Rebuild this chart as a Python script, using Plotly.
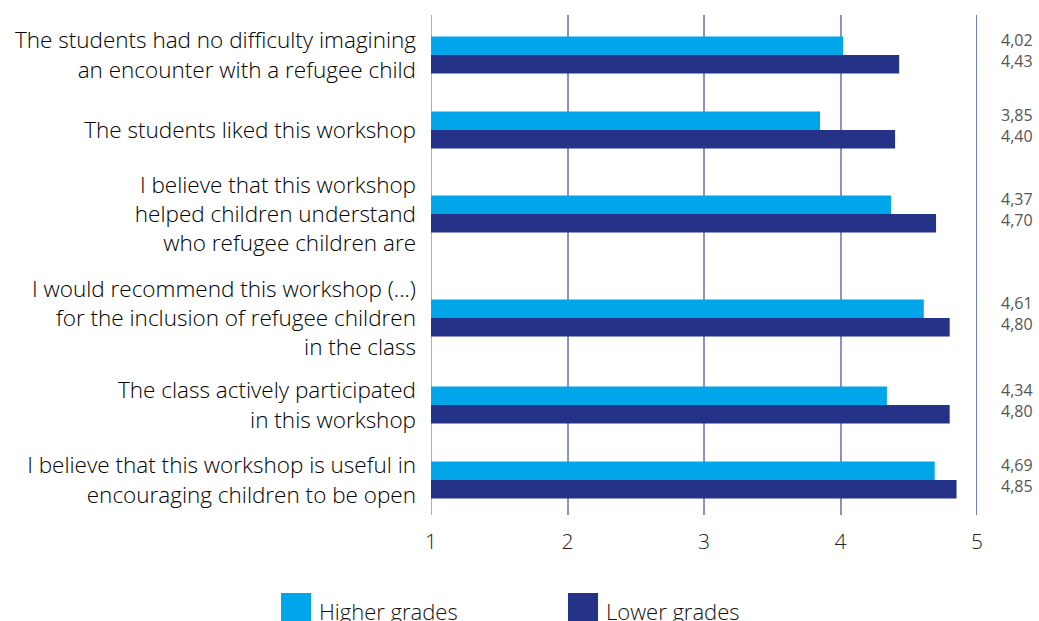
import plotly.graph_objects as go

# Survey statements (y categories), top to bottom
statements = [
    "The students had no difficulty imagining<br>an encounter with a refugee child",
    "The students liked this workshop",
    "I believe that this workshop<br>helped children understand<br>who refugee children are",
    "I would recommend this workshop (...)<br>for the inclusion of refugee children<br>in the class",
    "The class actively participated<br>in this workshop",
    "I believe that this workshop is useful in<br>encouraging children to be open",
]

# Mean scores on a 1-5 scale
higher_grades = [4.02, 3.85, 4.37, 4.61, 4.34, 4.69]
lower_grades = [4.43, 4.40, 4.70, 4.80, 4.80, 4.85]

x_ticks = [1, 2, 3, 4, 5]

# Vertical layout of the rows (rows are taller where labels wrap)
row_centers = [40, 115, 199, 303, 390, 465]
bar_thickness = 18.5

LIGHT = "#00a6e9"
DARK = "#243387"
GRID = "#8a93c4"
EDGE = "#7480bb"
FONT = "Open Sans"


def fmt(v):
    return f"{v:.2f}".replace(".", ",")


fig = go.Figure()
fig.add_trace(go.Bar(
    y=row_centers, x=higher_grades, orientation="h", name="Higher grades",
    marker=dict(color=LIGHT, line=dict(width=0)),
    width=bar_thickness, offset=-bar_thickness, showlegend=False,
))
fig.add_trace(go.Bar(
    y=row_centers, x=lower_grades, orientation="h", name="Lower grades",
    marker=dict(color=DARK, line=dict(width=0)),
    width=bar_thickness, offset=0, showlegend=False,
))

# Grid lines at the two ends of the scale
fig.add_shape(type="line", xref="x", yref="paper", x0=x_ticks[0], x1=x_ticks[0],
              y0=0, y1=1, line=dict(color=GRID, width=1.5), layer="below")
fig.add_shape(type="line", xref="x", yref="paper", x0=x_ticks[-1], x1=x_ticks[-1],
              y0=0, y1=1, line=dict(color=EDGE, width=2), layer="below")

# Value labels (higher / lower) stacked to the right of the plot
for yc, hv, lv in zip(row_centers, higher_grades, lower_grades):
    fig.add_annotation(
        x=1.04, xref="paper", y=yc - 5, yref="y",
        text=f"{fmt(hv)}<br>{fmt(lv)}",
        showarrow=False, xanchor="left", yanchor="middle", align="left",
        font=dict(family=FONT, size=16, color="#555555", weight=400),
    )

# Custom legend below the axis
legend_items = [("Higher grades", LIGHT, -0.2747), ("Lower grades", DARK, 0.2509)]
for label, color, x0 in legend_items:
    fig.add_shape(type="rect", xref="paper", yref="paper",
                  x0=x0, x1=x0 + 0.055, y0=-0.23, y1=-0.156,
                  fillcolor=color, line=dict(width=0))
    fig.add_annotation(x=x0 + 0.066, xref="paper", y=-0.192, yref="paper",
                       text=label, showarrow=False, xanchor="left", yanchor="middle",
                       font=dict(family=FONT, size=22, color="#111111", weight=300))

fig.update_layout(
    width=1039, height=621,
    margin=dict(l=431, r=62, t=15, b=106),
    plot_bgcolor="white", paper_bgcolor="white",
    barmode="overlay",
    font=dict(family=FONT, color="#111111"),
    xaxis=dict(
        range=[1, 5], tickvals=x_ticks, ticktext=[str(t) for t in x_ticks],
        showgrid=True, gridcolor=GRID, gridwidth=1.5,
        zeroline=False, showline=False, ticks="",
        ticklabelstandoff=12,
        tickfont=dict(family=FONT, size=21, color="#222222", weight=300),
    ),
    yaxis=dict(
        range=[500, 0], tickvals=row_centers, ticktext=statements,
        showgrid=False, zeroline=False, showline=False, ticks="",
        ticklabelstandoff=14,
        tickfont=dict(family=FONT, size=22.5, color="#000000", weight=300),
    ),
)

fig.write_html("out.html")
